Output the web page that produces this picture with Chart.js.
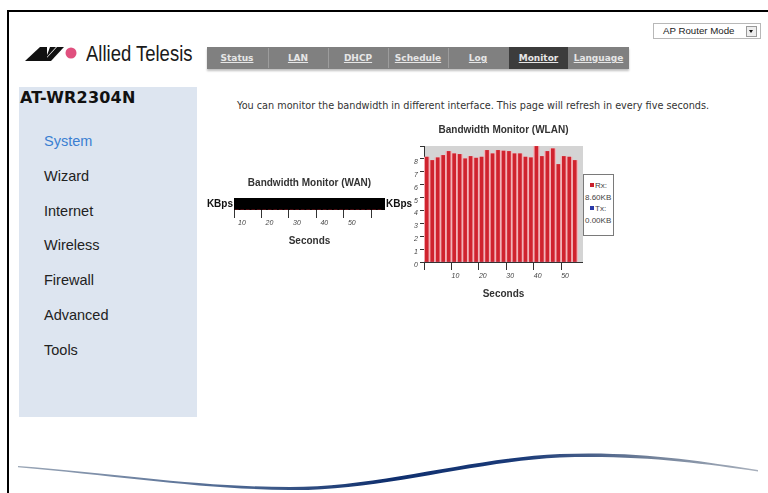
<!DOCTYPE html>
<html>
<head>
<meta charset="utf-8">
<script src="https://cdn.jsdelivr.net/npm/chart.js@4.4.0/dist/chart.umd.min.js"></script>
<style>
  html, body { margin:0; padding:0; }
  body { width:768px; height:493px; position:relative; overflow:hidden; background:#fff; font-family:'Liberation Sans', Arial, sans-serif; }
  .abs { position:absolute; }
  #frame { left:7px; top:10px; width:770px; height:500px; border-left:2px solid #000; border-top:2px solid #000; }
  #mode { left:653px; top:23px; width:106px; height:14px; border:1px solid #b8b8b8; background:#fff; }
  #mode span { position:absolute; left:9px; top:0; font-size:9.7px; line-height:14px; color:#222; }
  #mode .btn { position:absolute; left:92px; top:2px; width:9px; height:9px; border:1px solid #9a9a9a; background:#eee; }
  #mode .btn:after { content:''; position:absolute; left:2px; top:3px; border-left:2.5px solid transparent; border-right:2.5px solid transparent; border-top:3px solid #111; }
  #brand { left:86px; top:42px; font-size:22px; line-height:24px; color:#1a1a1a; transform:scaleX(0.84); transform-origin:left top; white-space:nowrap; }
  #nav { left:207px; top:47px; width:422px; height:22px; background:#808080; box-shadow:0 2px 2px rgba(0,0,0,0.25); }
  #nav .tab { position:absolute; top:0; height:22px; width:60px; text-align:center; font-family:'DejaVu Sans', Verdana, sans-serif; font-weight:bold; font-size:9px; line-height:23px; color:#e6e6e6; text-decoration:underline; }
  #nav .sep { position:absolute; top:1px; width:1px; height:20px; background:#9c9c9c; }
  #side { left:19px; top:87px; width:178px; height:330px; background:#dde5f0; }
  #model { left:20px; top:88px; font-family:'DejaVu Sans', Verdana, sans-serif; font-weight:bold; font-size:16px; line-height:20px; color:#111; letter-spacing:0.2px; }
  .menu { left:44px; font-size:14.5px; line-height:18px; color:#222; }
  #intro { left:237px; top:99px; font-family:'DejaVu Sans', Verdana, sans-serif; font-size:9.7px; line-height:14px; color:#333; white-space:nowrap; }
  #legend { left:583px; top:174px; width:29px; height:60px; border:1px solid #7a7a7a; background:#fff; font-size:8px; color:#444; }
  #legend .row { position:absolute; left:1px; white-space:nowrap; line-height:10px; }
  #legend .sw { display:inline-block; width:4px; height:4px; margin:0 1px 1px 5px; vertical-align:middle; }
</style>
</head>
<body>
<div id="frame" class="abs"></div>

<div id="mode" class="abs"><span>AP Router Mode</span><div class="btn"></div></div>

<svg class="abs" style="left:0;top:0" width="90" height="70">
  <polygon points="25,61 40,47 47,47 47,61" fill="#111"/>
  <polygon points="44,61 57,47 64,47 51,61" fill="#111"/>
  <polygon points="50,47 56,47 46,58" fill="#111"/>
  <circle cx="71" cy="53" r="5.5" fill="#e0507e"/>
</svg>
<div id="brand" class="abs">Allied Telesis</div>

<div id="nav" class="abs">
  <div class="tab" style="left:0">Status</div>
  <div class="sep" style="left:61px"></div>
  <div class="tab" style="left:61px">LAN</div>
  <div class="sep" style="left:121px"></div>
  <div class="tab" style="left:121px">DHCP</div>
  <div class="sep" style="left:181px"></div>
  <div class="tab" style="left:181px">Schedule</div>
  <div class="sep" style="left:241px"></div>
  <div class="tab" style="left:241px">Log</div>
  <div class="tab" style="left:302px;width:59px;background:#3c3c3c">Monitor</div>
  <div class="tab" style="left:361px;width:61px">Language</div>
</div>

<div id="side" class="abs"></div>
<div id="model" class="abs">AT-WR2304N</div>
<div class="abs menu" style="top:132px;color:#3a7fd2">System</div>
<div class="abs menu" style="top:167px">Wizard</div>
<div class="abs menu" style="top:202px">Internet</div>
<div class="abs menu" style="top:236px">Wireless</div>
<div class="abs menu" style="top:271px">Firewall</div>
<div class="abs menu" style="top:306px">Advanced</div>
<div class="abs menu" style="top:341px">Tools</div>

<div id="intro" class="abs">You can monitor the bandwidth in different interface. This page will refresh in every five seconds.</div>

<div class="abs" style="left:204px;top:170px;width:212px;height:77px"><canvas id="wan"></canvas></div>
<div class="abs" style="left:398px;top:121px;width:185px;height:179px"><canvas id="wlan"></canvas></div>

<div id="legend" class="abs"></div>

<svg class="abs" style="left:0;top:0;pointer-events:none" width="768" height="493">
  <defs>
    <linearGradient id="sw" x1="0" x2="1" y1="0" y2="0">
      <stop offset="0" stop-color="#9aa6b6"/>
      <stop offset="0.3" stop-color="#4a6590"/>
      <stop offset="0.5" stop-color="#0f2f6e"/>
      <stop offset="0.68" stop-color="#1a3a78"/>
      <stop offset="0.85" stop-color="#6f7f98"/>
      <stop offset="1" stop-color="#a8b0bc"/>
    </linearGradient>
  </defs>
  <path d="M18,466 C120,474 200,487 290,487 C380,487 470,458 560,454 C640,451 700,461 758,470
           L758,471.5 C700,463 640,455 560,457.5 C470,462 380,491 290,490 C200,489 120,476 18,467.2 Z" fill="url(#sw)"/>
</svg>

<script>
// ---------------- data ----------------
const wlanSeconds = [1, 3, 5, 7, 9, 11, 13, 15, 17, 19, 21, 23, 25, 27, 29, 31, 33, 35, 37, 39, 41, 43, 45, 47, 49, 51, 53, 55];
const wlanRx = [8.14, 7.88, 8.09, 8.27, 8.58, 8.40, 8.35, 8.01, 8.19, 8.06, 8.14, 8.66, 8.40, 8.66,
                8.61, 8.58, 8.40, 8.40, 8.14, 8.09, 8.97, 8.19, 8.58, 8.79, 7.57, 8.19, 8.14, 7.88];
const wlanTx = [0, 0, 0, 0, 0, 0, 0, 0, 0, 0, 0, 0, 0, 0, 0, 0, 0, 0, 0, 0, 0, 0, 0, 0, 0, 0, 0, 0];
const wanSeconds = [11, 13, 15, 17, 19, 21, 23, 25, 27, 29, 31, 33, 35, 37, 39, 41, 43, 45, 47, 49, 51, 53, 55, 57, 59, 61, 63];
const wanRx = [0, 0, 0, 0, 0, 0, 0, 0, 0, 0, 0, 0, 0, 0, 0, 0, 0, 0, 0, 0, 0, 0, 0, 0, 0, 0, 0];
const wlanYTicks = [0, 1, 2, 3, 4, 5, 6, 7, 8];
const wlanXTicks = [10, 20, 30, 40, 50];
const wanXTicks = [10, 20, 30, 40, 50];
const legendLabels = ['Rx:', 'Tx:'];
const legendValues = ['8.60KB', '0.00KB'];
const legendColors = ['#c8202c', '#2a3aa8'];
const titles = { wlan: 'Bandwidth Monitor (WLAN)', wan: 'Bandwidth Monitor (WAN)' };
const unitLabel = 'KBps';
const xTitle = 'Seconds';

// ---------------- legend (html) ----------------
const lg = document.getElementById('legend');
const rowTops = [6, 17.5, 29, 40.5];
legendLabels.forEach((lab, i) => {
  const r1 = document.createElement('div');
  r1.className = 'row';
  r1.style.top = rowTops[i * 2] + 'px';
  r1.innerHTML = '<span class="sw" style="background:' + legendColors[i] + '"></span>' + lab;
  lg.appendChild(r1);
  const r2 = document.createElement('div');
  r2.className = 'row';
  r2.style.top = rowTops[i * 2 + 1] + 'px';
  r2.textContent = legendValues[i];
  lg.appendChild(r2);
});

// ---------------- plugins ----------------
Chart.defaults.font.family = "'Liberation Sans', Arial, sans-serif";
Chart.defaults.color = '#333';

const plotBg = {
  id: 'plotBg',
  beforeDraw(chart, args, opts) {
    const { ctx, chartArea: a } = chart;
    ctx.save();
    ctx.fillStyle = opts.color;
    ctx.fillRect(a.left, a.top, a.right - a.left, a.bottom - a.top);
    ctx.restore();
  }
};
const areaTitle = {
  id: 'areaTitle',
  afterDraw(chart, args, opts) {
    const { ctx, chartArea: a } = chart;
    ctx.save();
    ctx.font = 'bold 10px ' + Chart.defaults.font.family;
    ctx.fillStyle = '#333';
    ctx.textAlign = 'center';
    ctx.textBaseline = 'middle';
    ctx.fillText(opts.text, (a.left + a.right) / 2, a.top - opts.gap);
    if (opts.unit) {
      const my = (a.top + a.bottom) / 2;
      ctx.fillStyle = '#111';
      ctx.textAlign = 'right';
      ctx.fillText(opts.unit, a.left - 1, my);
      ctx.textAlign = 'left';
      ctx.fillText(opts.unit, a.right + 1, my);
    }
    ctx.restore();
  }
};

const tickFont = { size: 7, style: 'italic' };

// ---------------- WLAN chart ----------------
new Chart(document.getElementById('wlan'), {
  type: 'bar',
  data: {
    datasets: [
      { label: 'Rx', data: wlanSeconds.map((s, i) => ({ x: s, y: wlanRx[i] })), backgroundColor: '#d0232e', barThickness: 3, grouped: false, order: 0 },
      { label: 'Tx', data: wlanSeconds.map((s, i) => ({ x: s, y: wlanTx[i] })), backgroundColor: '#2a3aa8', barThickness: 3, grouped: false, order: 0 },
      { label: 'Rx shade', data: wlanSeconds.map((s, i) => ({ x: s, y: wlanRx[i] })), backgroundColor: '#f2b3b8', barThickness: 5.6, grouped: false, order: 1 }
    ]
  },
  options: {
    responsive: true, maintainAspectRatio: false, animation: false,
    layout: { padding: { top: 25, right: 0, left: 0, bottom: 0 } },
    plugins: { legend: { display: false }, tooltip: { enabled: false }, title: { display: false },
               plotBg: { color: '#d4d4d4' }, areaTitle: { text: titles.wlan, gap: 16 } },
    scales: {
      x: {
        type: 'linear', min: 0, max: 58, offset: false,
        border: { display: true, color: '#333' },
        grid: { offset: false, drawOnChartArea: false, drawTicks: true, tickLength: 8, color: '#333' },
        ticks: { stepSize: 10, includeBounds: false, autoSkip: false, maxRotation: 0, labelOffset: 4, padding: 2, font: tickFont, color: '#444',
                 callback: v => wlanXTicks.includes(v) ? String(v) : '' },
        title: { display: true, text: xTitle, font: { size: 10, weight: 'bold' }, color: '#333', padding: 0 },
        afterFit(s) { s.height = 38; }
      },
      y: {
        min: 0, max: 9,
        border: { display: true, color: '#333' },
        grid: { drawOnChartArea: false, drawTicks: true, tickLength: 4, color: '#333' },
        ticks: { stepSize: 1, includeBounds: false, autoSkip: false, labelOffset: 3, padding: 2, font: tickFont, color: '#444',
                 callback: v => wlanYTicks.includes(v) ? String(v) : '' },
        afterFit(s) { s.width = 26; }
      }
    }
  },
  plugins: [plotBg, areaTitle]
});

// ---------------- WAN chart ----------------
new Chart(document.getElementById('wan'), {
  type: 'bar',
  data: {
    datasets: [
      { label: 'Rx', data: wanSeconds.map((s, i) => ({ x: s, y: wanRx[i] })), backgroundColor: '#d0232e', barThickness: 3 }
    ]
  },
  options: {
    responsive: true, maintainAspectRatio: false, animation: false,
    layout: { padding: { top: 28, right: 31, left: 30, bottom: 0 } },
    plugins: { legend: { display: false }, tooltip: { enabled: false }, title: { display: false },
               plotBg: { color: '#000' }, areaTitle: { text: titles.wan, gap: 15, unit: unitLabel } },
    scales: {
      x: {
        type: 'linear', min: 10, max: 65, offset: false,
        border: { display: false },
        grid: { offset: false, drawOnChartArea: false, drawTicks: true, tickLength: 8, color: '#333' },
        ticks: { stepSize: 10, includeBounds: false, autoSkip: false, maxRotation: 0, labelOffset: 8, padding: 1, font: tickFont, color: '#444',
                 callback: v => wanXTicks.includes(v) ? String(v) : '' },
        title: { display: true, text: xTitle, font: { size: 10, weight: 'bold' }, color: '#333', padding: 0 },
        afterFit(s) { s.height = 37; }
      },
      y: { display: false, min: 0, max: 1 }
    }
  },
  plugins: [plotBg, areaTitle]
});
</script>
</body>
</html>
